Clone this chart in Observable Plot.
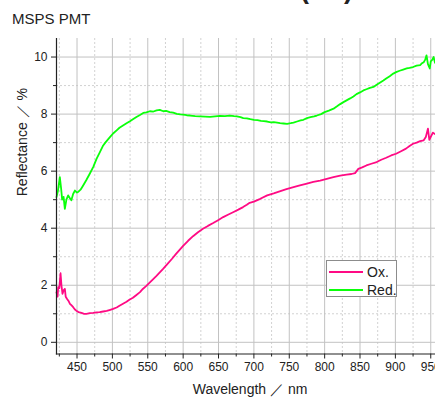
<!DOCTYPE html>
<html><head><meta charset="utf-8">
<script src="https://cdn.jsdelivr.net/npm/d3@7"></script>
<script src="https://cdn.jsdelivr.net/npm/@observablehq/plot@0.6"></script>
<style>
html,body{margin:0;padding:0;background:#fff;overflow:hidden;width:435px;height:398px;}
#wrap{position:relative;width:435px;height:398px;overflow:hidden;font-family:"Liberation Sans",Arial,sans-serif;color:#222;}
#chart{position:absolute;left:0;top:0;width:443px;height:398px;}
#chart svg{max-width:none !important;}
#title{position:absolute;left:12px;top:10px;font-size:15px;white-space:nowrap;}
.cut{position:absolute;top:-24px;font-size:27px;font-weight:bold;line-height:27px;}
#legend{position:absolute;left:326px;top:260px;width:69px;height:35px;border:1px solid #8c8c8c;background:#fff;}
.lg-row{position:absolute;left:0;width:69px;height:16px;}
.lg-line{position:absolute;left:2px;width:34px;top:7px;height:0;border-top:2px solid;}
.lg-text{position:absolute;left:40px;top:-1px;font-size:14px;line-height:18px;}
</style>
</head><body>
<div id="wrap">
  <div id="chart"></div>
  <div id="title">MSPS PMT</div>
  <span class="cut" style="left:300px">(</span><span class="cut" style="left:344px">)</span>
  <div id="legend"></div>
</div>
<script>
// ---- data ----
const seriesNames = ["Ox.", "Red."];
const seriesColors = ["#ff0a84", "#0aff0a"];

const oxWavelength = [421,422.5,423.4,425,426.7,428,429.5,431,432.8,434,436,438,440,442,444.6,447,449,452,456.4,460,463.4,468,472.9,478,482,487,492,497,501,506,510,515,520,524,529,534,539,543,548,553,557,562,567,572,577,584,590,595,600,607,614,621,628,635,642.5,650,656.6,664,670.6,678,684.7,690,694,700,709,718.8,728,737.5,746,756,765,775,784,793.6,803,812.4,822,831,838,843,847.6,853,859,866,873.5,880,887,894,901,908,915,920,925,930,935,940,943,946,948,950,953,956];
const oxReflectance = [1.75,1.6,1.93,1.9,2.42,2.0,1.7,1.82,1.87,1.6,1.52,1.45,1.35,1.3,1.23,1.15,1.11,1.06,1.03,1.0,1.0,1.02,1.03,1.05,1.06,1.08,1.1,1.14,1.17,1.22,1.28,1.35,1.42,1.49,1.56,1.66,1.76,1.87,1.98,2.1,2.2,2.32,2.45,2.58,2.72,2.92,3.1,3.24,3.38,3.56,3.72,3.86,3.98,4.08,4.18,4.29,4.39,4.48,4.56,4.65,4.74,4.82,4.89,4.93,5.03,5.15,5.22,5.3,5.37,5.44,5.5,5.56,5.62,5.67,5.73,5.79,5.84,5.88,5.9,5.93,6.08,6.13,6.2,6.26,6.32,6.4,6.47,6.55,6.61,6.7,6.79,6.88,6.96,7.0,7.05,7.08,7.2,7.49,7.1,7.2,7.35,7.3];

const redWavelength = [421,423,425.7,427.5,429,431,432.8,435,437.5,440,442,444.5,447,450,452,455,458.7,463,468,473,477.6,482,487,490,496.5,501,506,510,515,520,524.8,529,534,539,543.6,548,553,558,562.5,567,572,576,581,586,591,596,600,605,610,617,624,631,638,645,652,659,666,672,676,681,685,690,695,700,705,710,714,718.8,724,728,732.8,737,742,747,752,756,761,766,770,775,780,785,789,795,800,806,812.6,818,822,826.6,831,836,840.7,845,850,854.8,859,864,869,873,878,883,887,892,897,901,906,911,916,920,925,930,935,937,940,942,944,946,948.6,950,952,954,956];
const redReflectance = [5.09,5.3,5.79,5.4,5.0,5.1,4.68,5.0,5.15,5.05,4.98,5.2,5.32,5.25,5.28,5.35,5.5,5.68,5.91,6.15,6.43,6.65,6.9,7.0,7.19,7.32,7.43,7.52,7.6,7.68,7.75,7.82,7.9,7.97,8.04,8.06,8.1,8.09,8.13,8.15,8.1,8.11,8.07,8.05,8.01,7.99,7.98,7.96,7.95,7.93,7.92,7.91,7.9,7.92,7.94,7.93,7.95,7.93,7.92,7.89,7.86,7.85,7.82,7.8,7.79,7.76,7.75,7.74,7.71,7.72,7.7,7.68,7.67,7.66,7.68,7.7,7.74,7.78,7.8,7.86,7.89,7.92,7.95,8.0,8.07,8.12,8.19,8.28,8.35,8.42,8.48,8.55,8.62,8.7,8.76,8.83,8.87,8.92,8.95,9.02,9.1,9.18,9.25,9.33,9.42,9.47,9.52,9.56,9.6,9.62,9.65,9.7,9.72,9.77,9.82,9.9,10.06,9.75,9.6,9.85,9.9,10.0,9.8];

const xTicks = [450,500,550,600,650,700,750,800,850,900,950];
const xMinorTicks = [425,475,525,575,625,675,725,775,825,875,925];
const yTicks = [0,2,4,6,8,10];
const yMinorTicks = [1,3,5,7,9];
const xLabel = "Wavelength ／ nm";
const yLabel = "Reflectance ／ %";

// ---- build ----
const rows = [];
oxWavelength.forEach((w, i) => rows.push({series: seriesNames[0], w, r: oxReflectance[i]}));
redWavelength.forEach((w, i) => rows.push({series: seriesNames[1], w, r: redReflectance[i]}));

const plot = Plot.plot({
  width: 443, height: 398,
  marginTop: 38, marginBottom: 44.5, marginLeft: 56, marginRight: 0,
  x: {domain: [421, 968]},
  y: {domain: [-0.41, 10.65]},
  color: {domain: seriesNames, range: seriesColors},
  style: {fontFamily: "'Liberation Sans', Arial, sans-serif", fontSize: "12px", color: "#222", background: "transparent", overflow: "visible", maxWidth: "none"},
  marks: [
    Plot.gridX(xMinorTicks, {stroke: "#d2d2d2", strokeOpacity: 1, strokeDasharray: "2,2"}),
    Plot.gridY(yMinorTicks, {stroke: "#d2d2d2", strokeOpacity: 1, strokeDasharray: "2,2"}),
    Plot.gridX(xTicks, {stroke: "#c2c2c2", strokeOpacity: 1}),
    Plot.gridY(yTicks, {stroke: "#c2c2c2", strokeOpacity: 1}),
    Plot.line(rows, {x: "w", y: "r", z: "series", stroke: "series", strokeWidth: 1.8}),
    Plot.frame({anchor: "left", stroke: "#222", strokeWidth: 1.2}),
    Plot.frame({anchor: "bottom", stroke: "#222", strokeWidth: 1.2}),
    Plot.axisX(xMinorTicks, {tickSize: 3, text: null, label: null, stroke: "#222"}),
    Plot.axisX(xTicks, {tickSize: 5, tickPadding: 3, label: null, stroke: "#222", fill: "#222"}),
    Plot.axisY(yMinorTicks, {tickSize: 3, text: null, label: null, stroke: "#222"}),
    Plot.axisY(yTicks, {tickSize: 5, tickPadding: 4, label: null, stroke: "#222", fill: "#222"}),
    Plot.text([xLabel], {frameAnchor: "bottom", dy: 40, fontSize: 14, fill: "#222"}),
    Plot.text([yLabel], {frameAnchor: "left", dx: -34, rotate: -90, fontSize: 14, fill: "#222"})
  ]
});
document.getElementById("chart").appendChild(plot);

// legend
const lg = document.getElementById("legend");
seriesNames.forEach((name, i) => {
  const row = document.createElement("div");
  row.className = "lg-row";
  row.style.top = (3 + i * 18) + "px";
  const ln = document.createElement("div");
  ln.className = "lg-line";
  ln.style.borderTopColor = seriesColors[i];
  const tx = document.createElement("div");
  tx.className = "lg-text";
  tx.textContent = name;
  row.appendChild(ln); row.appendChild(tx);
  lg.appendChild(row);
});
</script>
</body></html>
